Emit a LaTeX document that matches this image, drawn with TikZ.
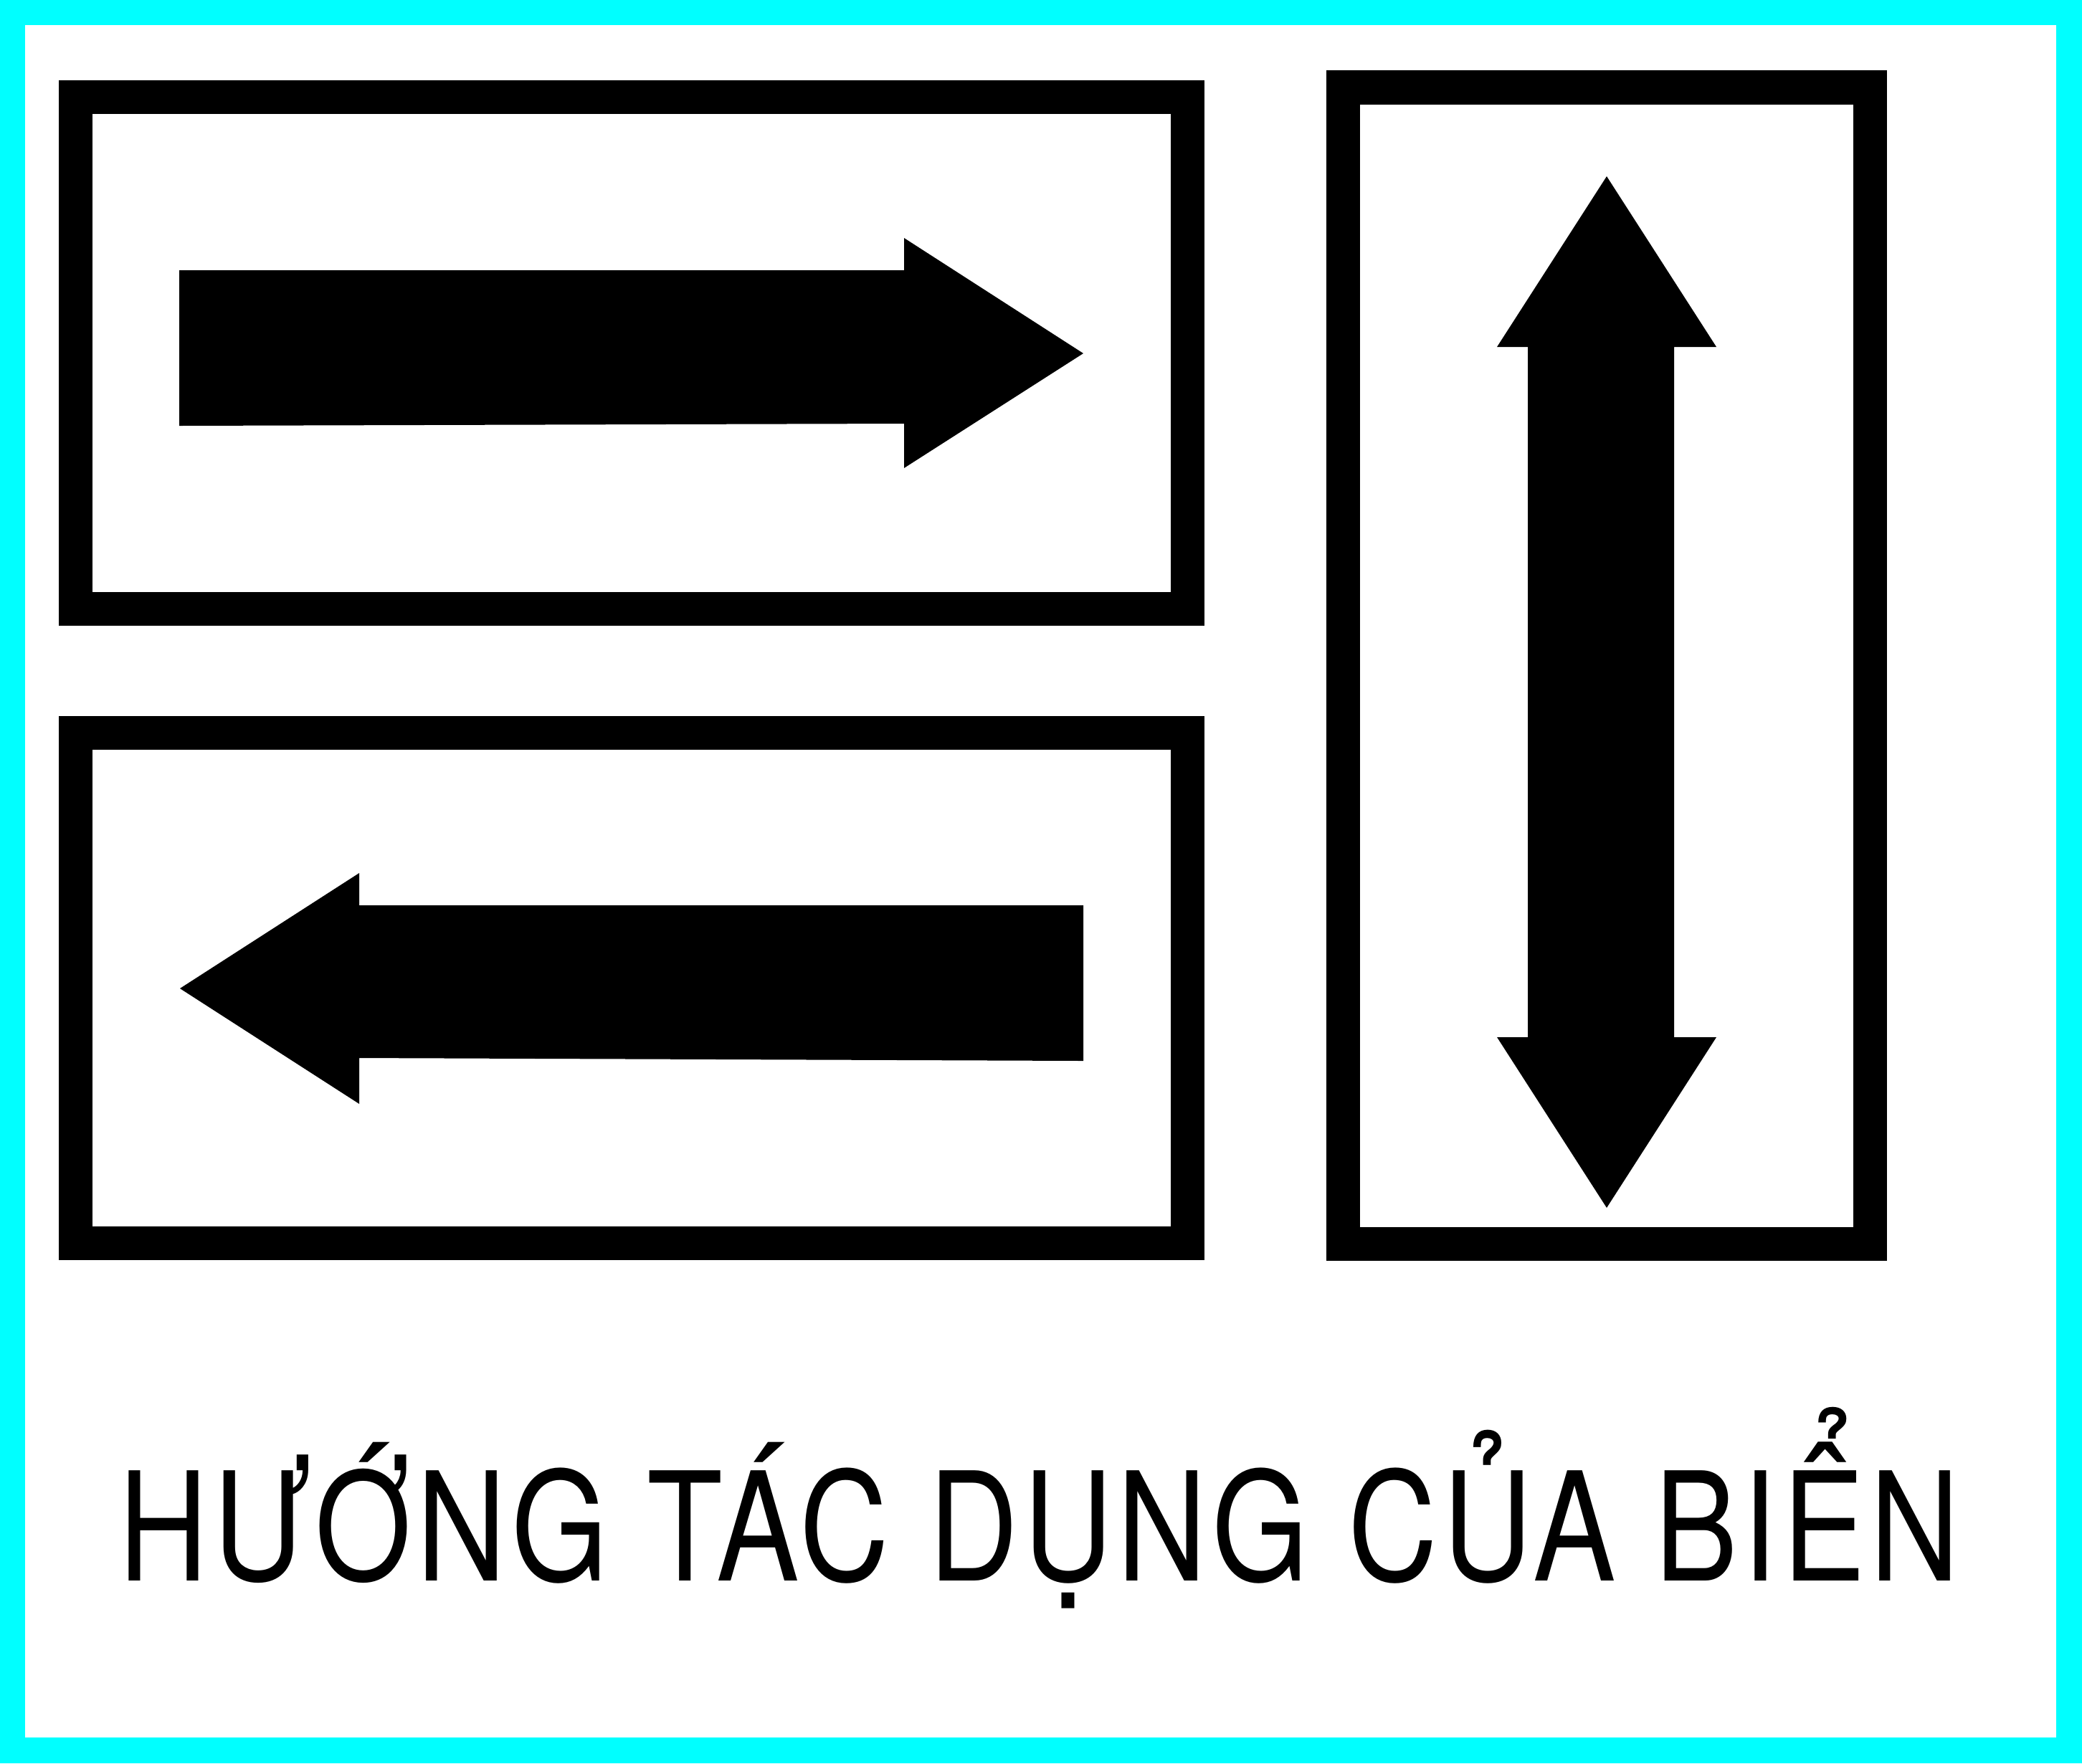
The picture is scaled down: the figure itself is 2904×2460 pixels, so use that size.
\documentclass[tikz,border=0pt]{standalone}
\usepackage{fontspec}
\newfontfamily\captionfont[LetterSpace=4]{TeX Gyre Heros}
\definecolor{bordercyan}{RGB}{0,255,255}
\begin{document}
\begin{tikzpicture}[x=0.01cm,y=-0.01cm,
  frame/.style={draw=black,line width=0.47cm,fill=white},
  sign/.style={fill=black,draw=none}]
\useasboundingbox (0,0) rectangle (2904,2460);
\fill[bordercyan] (0,0) rectangle (2904,2460);
\fill[white] (35,35) rectangle (2868,2424);
% frames
\draw[frame] (105.5,135.5) rectangle (1656.5,849);
\draw[frame] (105.5,1022) rectangle (1656.5,1734);
\draw[frame] (1873.5,122) rectangle (2608.5,1735);
% right arrow
\fill[sign] (250,377) -- (1261,377) -- (1261,332) -- (1511,493) -- (1261,653) -- (1261,591) -- (250,594) -- cycle;
% left arrow
\fill[sign] (251,1379) -- (501,1218) -- (501,1263) -- (1511,1263) -- (1511,1480) -- (501,1476) -- (501,1540) -- cycle;
% double arrow
\fill[sign] (2241,246) -- (2394,484) -- (2335,484) -- (2335,1447) -- (2394,1447) -- (2241,1685) -- (2088,1447) -- (2131,1447) -- (2131,484) -- (2088,484) -- cycle;
% caption
\node[anchor=base west,inner sep=0pt] (title) at (165,2205)
  {\resizebox{25.66cm}{\height}{\fontsize{60pt}{70pt}\captionfont HƯỚNG TÁC DỤNG CỦA BIỂN}};
\end{tikzpicture}
\end{document}
